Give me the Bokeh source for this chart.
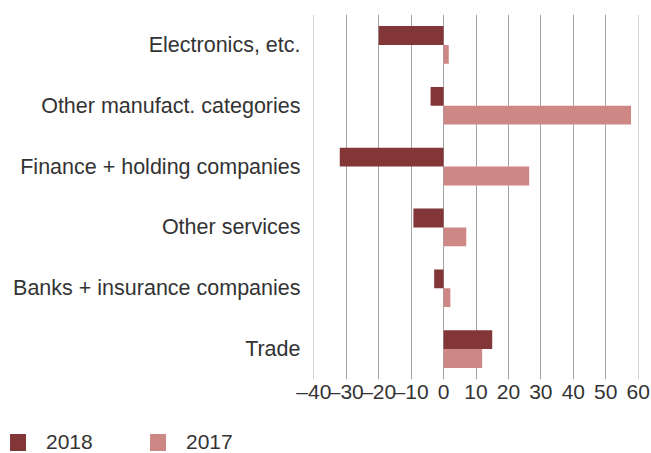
from bokeh.plotting import figure
from bokeh.layouts import column
from bokeh.models import FactorRange, FixedTicker, ColumnDataSource, Div
from bokeh.transform import dodge
from bokeh.embed import file_html
from bokeh.resources import INLINE

categories = ["Electronics, etc.", "Other manufact. categories", "Finance + holding companies",
              "Other services", "Banks + insurance companies", "Trade"]
values_2018 = [-20, -4, -32, -9.3, -2.9, 15]
values_2017 = [1.6, 57.8, 26.4, 7.0, 2.1, 11.9]
x_ticks = [-40, -30, -20, -10, 0, 10, 20, 30, 40, 50, 60]
x_tick_labels = ["\u201340", "\u201330", "\u201320", "\u201310", "0", "10", "20", "30", "40", "50", "60"]
series_names = ["2018", "2017"]

c2018 = "#823638"
c2017 = "#CD8784"
FONT = "Liberation Sans"
TXT = "#333333"

src = ColumnDataSource(dict(cat=categories, v18=values_2018, v17=values_2017))

y_range = FactorRange(factors=list(reversed(categories)), range_padding=0)
p = figure(width=650, height=405, y_range=y_range, x_range=(-40.1, 60.1),
           output_backend="svg", toolbar_location=None,
           min_border_left=313, min_border_right=12, min_border_top=14, min_border_bottom=25)

r18 = p.hbar(y=dodge("cat", 0.155, range=p.y_range), left=0, right="v18", height=0.31,
             source=src, fill_color=c2018, line_color=None)
r17 = p.hbar(y=dodge("cat", -0.155, range=p.y_range), left=0, right="v17", height=0.31,
             source=src, fill_color=c2017, line_color=None)

p.outline_line_color = None
p.background_fill_color = "white"
p.border_fill_color = "white"
p.ygrid.grid_line_color = None
p.xgrid.grid_line_color = "#a4a4a4"
p.xgrid.grid_line_width = 1
p.xgrid.ticker = FixedTicker(ticks=x_ticks)

for ax in (p.xaxis, p.yaxis):
    ax.axis_line_color = None
    ax.major_tick_line_color = None
    ax.minor_tick_line_color = None
    ax.major_tick_out = 0
    ax.major_tick_in = 0
    ax.minor_tick_out = 0
    ax.minor_tick_in = 0
    ax.major_label_text_font = FONT
    ax.major_label_text_color = TXT

p.xaxis.major_label_text_font_size = "21px"
p.yaxis.major_label_text_font_size = "21.5px"
p.xaxis.ticker = FixedTicker(ticks=x_ticks)
p.xaxis.major_label_overrides = {t: l for t, l in zip(x_ticks, x_tick_labels)}
p.xaxis.major_label_standoff = 0
p.yaxis.major_label_standoff = 13

# legend strip (HTML)
def item(left, color, label):
    return (f'<span style="position:absolute;left:{left}px;top:24px;width:16px;height:17px;'
            f'background:{color};"></span>'
            f'<span style="position:absolute;left:{left + 36}px;top:21px;line-height:21px;">{label}</span>')

legend_html = ('<div style="position:relative;width:640px;height:42px;font-family:\'Liberation Sans\';'
               f'font-size:21px;color:{TXT};">'
               + item(5, c2018, series_names[0]) + item(145, c2017, series_names[1]) + '</div>')
leg = Div(text=legend_html, width=640, height=42)

layout = column(p, leg, spacing=0)
open("out.html", "w").write(file_html(layout, INLINE))
